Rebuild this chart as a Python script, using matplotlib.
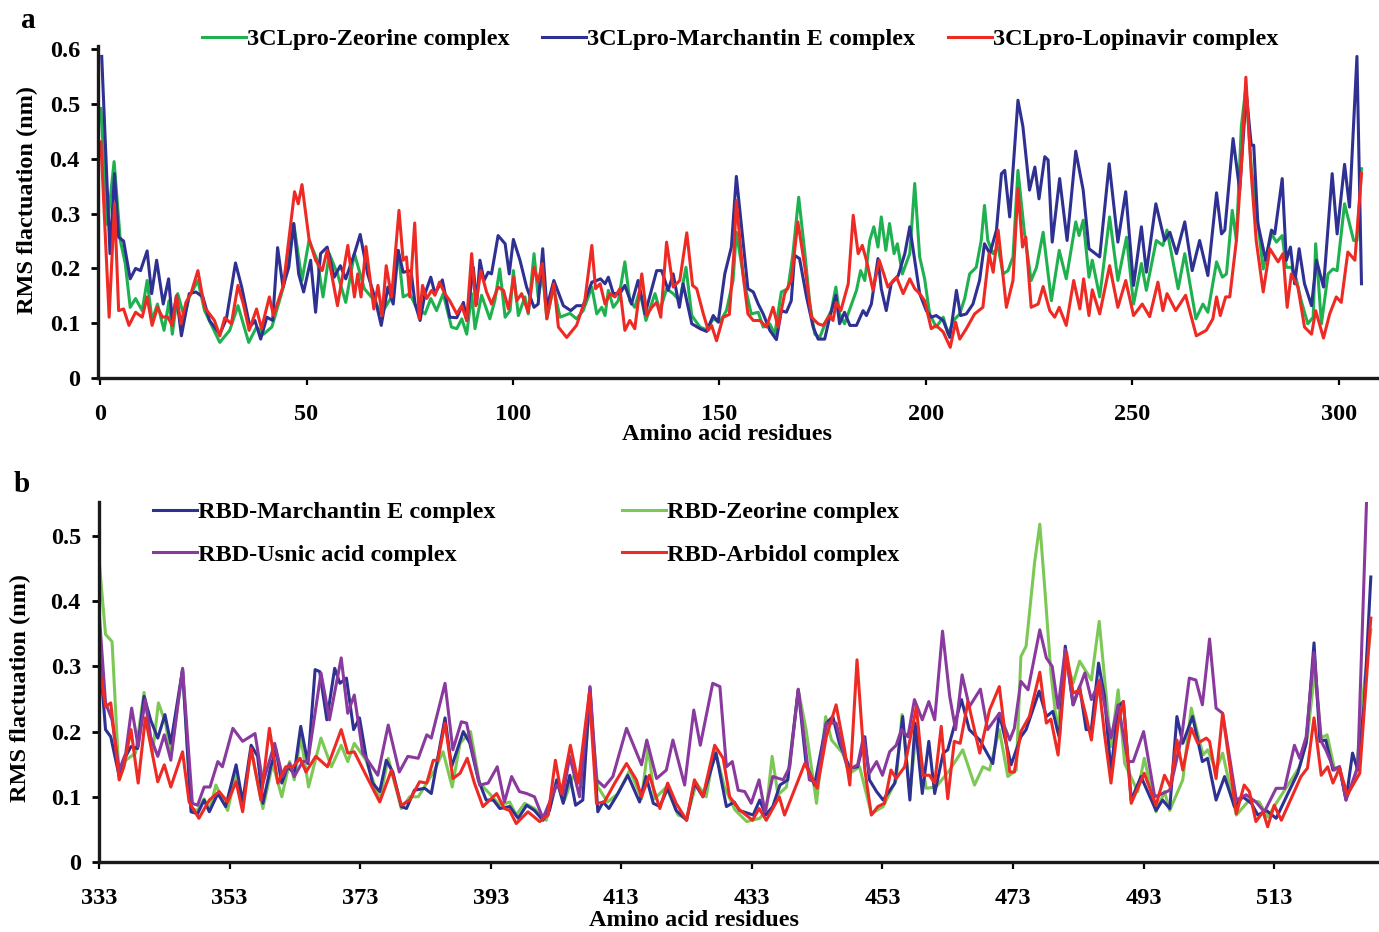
import matplotlib
matplotlib.use("Agg")
import matplotlib.pyplot as plt
from matplotlib.ticker import FuncFormatter

plt.rcParams['font.family'] = ['Liberation Serif', 'DejaVu Serif']
plt.rcParams['font.weight'] = 'bold'

# ---- panel a : 3CLpro complexes (residue, RMSF nm) ----
zeo_a_x = [0.2, 1.8, 3.4, 4.9, 6.1, 7.3, 8.6, 10.2, 11.4, 12.6, 13.9, 15.5, 16.7, 17.5, 18.8, 20.4, 21.6, 23.7, 25.3, 29, 31.4, 33.4, 36, 37.9, 39.6, 41.6, 44.4, 46.9, 48.9, 50.6, 52.6, 54, 55.5, 57.5, 59.5, 61.6, 64, 66.5, 68.1, 70.6, 72.2, 73.4, 75, 76.6, 78.7, 80.1, 81.5, 83.1, 85.1, 86.4, 87.6, 88.8, 90, 90.8, 92.4, 94.4, 95.6, 96.8, 98.1, 99.3, 100.1, 101.3, 102.9, 103.7, 105.1, 106.1, 107.2, 108.2, 109.8, 111.4, 113.8, 115.4, 117, 119.1, 120.3, 121.5, 122.3, 123.1, 124.3, 125.5, 127.1, 128.3, 129.5, 130.7, 132.2, 134.4, 135.6, 137.2, 138.8, 140.4, 141.9, 143.3, 145.3, 146.9, 148.5, 150.1, 151.7, 153.3, 154.1, 156.1, 157.7, 159.4, 160.6, 162.2, 163.4, 165, 166.6, 167.8, 169.2, 170.7, 171.9, 173.1, 174.3, 175.9, 177.1, 178.2, 179.1, 180.3, 182, 183.2, 184.2, 185.2, 186.4, 187.4, 188.4, 189.2, 190.3, 191.2, 192.3, 193.1, 194.3, 196.1, 197.3, 198.5, 199.7, 200.9, 202.5, 204.2, 205.4, 206.7, 208.2, 209.4, 210.6, 212.2, 213.4, 214.2, 215, 216.3, 217.5, 218.7, 219.9, 221.1, 222.3, 223.9, 225.5, 226.8, 228.4, 230.4, 232.3, 234, 236.3, 237.1, 238.1, 239.5, 240.3, 242.1, 244.5, 246.5, 248.6, 250.3, 252.2, 253.4, 255.8, 257.4, 258.4, 261.1, 262.7, 265.4, 267.1, 268.3, 270.4, 271.8, 272.8, 274.2, 275.2, 276.4, 277.5, 278.8, 281.7, 283.7, 284.9, 286.3, 287.3, 288.5, 289.7, 290.9, 292.5, 293.8, 294.4, 295.8, 297.4, 298.6, 299.6, 301.4, 303.6, 304.4, 305.5]
zeo_a_y = [0.492, 0.28, 0.395, 0.251, 0.209, 0.129, 0.145, 0.123, 0.178, 0.105, 0.135, 0.087, 0.141, 0.08, 0.154, 0.111, 0.148, 0.178, 0.123, 0.065, 0.087, 0.132, 0.065, 0.093, 0.08, 0.093, 0.166, 0.282, 0.178, 0.251, 0.215, 0.148, 0.227, 0.19, 0.138, 0.227, 0.163, 0.141, 0.117, 0.148, 0.233, 0.148, 0.154, 0.129, 0.117, 0.145, 0.123, 0.154, 0.093, 0.09, 0.108, 0.08, 0.154, 0.09, 0.151, 0.108, 0.141, 0.199, 0.111, 0.123, 0.196, 0.114, 0.148, 0.117, 0.227, 0.148, 0.19, 0.108, 0.166, 0.111, 0.118, 0.108, 0.123, 0.166, 0.117, 0.129, 0.114, 0.16, 0.129, 0.141, 0.212, 0.141, 0.129, 0.16, 0.105, 0.154, 0.123, 0.163, 0.154, 0.141, 0.202, 0.114, 0.093, 0.088, 0.108, 0.102, 0.123, 0.178, 0.266, 0.172, 0.117, 0.12, 0.093, 0.099, 0.08, 0.157, 0.163, 0.227, 0.33, 0.227, 0.135, 0.08, 0.074, 0.105, 0.123, 0.166, 0.117, 0.099, 0.135, 0.16, 0.196, 0.178, 0.251, 0.276, 0.239, 0.294, 0.233, 0.282, 0.227, 0.245, 0.19, 0.227, 0.355, 0.221, 0.181, 0.117, 0.093, 0.111, 0.08, 0.105, 0.117, 0.145, 0.19, 0.202, 0.251, 0.315, 0.251, 0.227, 0.239, 0.19, 0.196, 0.221, 0.379, 0.263, 0.178, 0.202, 0.266, 0.141, 0.233, 0.181, 0.285, 0.26, 0.288, 0.184, 0.215, 0.148, 0.294, 0.178, 0.257, 0.135, 0.209, 0.16, 0.251, 0.242, 0.27, 0.163, 0.227, 0.108, 0.135, 0.12, 0.212, 0.184, 0.19, 0.306, 0.251, 0.459, 0.53, 0.385, 0.199, 0.263, 0.248, 0.26, 0.202, 0.202, 0.181, 0.141, 0.099, 0.111, 0.245, 0.099, 0.19, 0.199, 0.196, 0.318, 0.251, 0.251, 0.382]

mar_a_x = [0.4, 2.4, 3.5, 4.5, 5.7, 7.3, 8.6, 9.8, 11.4, 12.5, 13.7, 15.3, 16.6, 17.5, 18.5, 19.7, 21.6, 23.2, 24.9, 26.5, 29, 30.6, 32.8, 34.3, 36.3, 37.5, 38.9, 40.4, 41.8, 43, 44.3, 45.7, 46.9, 48.1, 49.3, 51, 52.2, 53.4, 55, 56.7, 58.2, 59.5, 61.6, 63, 64.8, 66.5, 68.1, 69.7, 71, 72.2, 73.4, 75.3, 76.3, 77.5, 78.7, 80.1, 81.1, 82.9, 84.7, 86.4, 88, 88.8, 90.4, 91.2, 92, 93, 94, 94.8, 96.4, 98.1, 99.1, 100.1, 101.7, 103.3, 105.1, 106.1, 107.2, 108.2, 109.9, 112.2, 114, 115.4, 117, 119.1, 120.3, 121.2, 122.3, 123.1, 124.3, 125.9, 127.1, 128.7, 130.3, 132, 134.8, 136, 137.6, 138.8, 140.3, 141.2, 143.3, 145.3, 146.9, 148.5, 149.7, 151.3, 152.9, 154.1, 155.7, 156.9, 158.2, 159.4, 160.6, 162.2, 163.8, 165, 166.2, 167.4, 168.2, 169.4, 171.1, 172.7, 173.9, 175.5, 176.7, 178.2, 179.1, 180.3, 181.6, 183.2, 184.8, 185.6, 186.8, 188.4, 189.2, 190.4, 191.6, 193.3, 194.9, 196.1, 197.3, 198.5, 200.1, 201.3, 202.5, 204.2, 205.8, 207.4, 208.4, 209.8, 211.4, 213, 214.2, 215.5, 217.1, 218.3, 219.1, 220.3, 222.3, 223.5, 225.1, 226.4, 227.4, 228.8, 229.6, 230.6, 232.4, 234.2, 236.3, 238.1, 239.5, 242.1, 244.4, 246.5, 248.4, 250.3, 252.2, 253.4, 255.7, 257.8, 259.1, 260.7, 262.7, 264.5, 266.3, 268.3, 270.4, 271.6, 272.4, 274.4, 276, 277.6, 278.8, 279.4, 280.4, 282.3, 283.7, 284.5, 286.3, 287.3, 288.3, 289.3, 290.4, 291.7, 293.4, 294.6, 296.3, 298.4, 299.6, 301.4, 302.6, 304.4, 305.5]
mar_a_y = [0.587, 0.227, 0.373, 0.257, 0.25, 0.181, 0.2, 0.196, 0.232, 0.154, 0.215, 0.135, 0.181, 0.105, 0.15, 0.077, 0.154, 0.157, 0.148, 0.105, 0.08, 0.108, 0.21, 0.166, 0.093, 0.105, 0.071, 0.111, 0.105, 0.238, 0.166, 0.202, 0.282, 0.19, 0.157, 0.215, 0.12, 0.227, 0.239, 0.184, 0.205, 0.181, 0.227, 0.262, 0.19, 0.148, 0.096, 0.166, 0.135, 0.233, 0.193, 0.196, 0.135, 0.105, 0.154, 0.184, 0.154, 0.179, 0.111, 0.11, 0.138, 0.105, 0.202, 0.135, 0.215, 0.178, 0.193, 0.19, 0.26, 0.245, 0.19, 0.253, 0.215, 0.166, 0.129, 0.135, 0.236, 0.129, 0.178, 0.132, 0.123, 0.132, 0.132, 0.175, 0.178, 0.181, 0.172, 0.184, 0.154, 0.154, 0.169, 0.135, 0.178, 0.117, 0.196, 0.196, 0.16, 0.19, 0.129, 0.172, 0.099, 0.09, 0.085, 0.114, 0.102, 0.19, 0.239, 0.368, 0.251, 0.163, 0.157, 0.135, 0.117, 0.087, 0.07, 0.123, 0.12, 0.141, 0.224, 0.218, 0.148, 0.093, 0.071, 0.071, 0.111, 0.151, 0.099, 0.12, 0.096, 0.096, 0.123, 0.114, 0.135, 0.218, 0.163, 0.123, 0.172, 0.187, 0.227, 0.276, 0.215, 0.154, 0.123, 0.111, 0.114, 0.105, 0.074, 0.16, 0.114, 0.117, 0.135, 0.178, 0.245, 0.227, 0.27, 0.373, 0.379, 0.294, 0.507, 0.459, 0.343, 0.385, 0.327, 0.404, 0.398, 0.248, 0.364, 0.251, 0.414, 0.343, 0.236, 0.221, 0.391, 0.248, 0.34, 0.169, 0.276, 0.193, 0.318, 0.251, 0.266, 0.227, 0.285, 0.196, 0.251, 0.187, 0.338, 0.263, 0.27, 0.437, 0.343, 0.52, 0.425, 0.425, 0.282, 0.215, 0.27, 0.263, 0.364, 0.215, 0.239, 0.172, 0.236, 0.172, 0.132, 0.215, 0.166, 0.373, 0.263, 0.39, 0.312, 0.587, 0.172]

lop_a_x = [0.2, 2.2, 3.5, 4.5, 5.7, 7, 8.6, 10.2, 11.4, 12.6, 13.9, 15.1, 16.3, 17.5, 18.5, 19.6, 20.8, 22, 23.7, 25.3, 27.7, 29, 30.2, 31.8, 33.4, 34.7, 36.1, 37.9, 39.1, 41, 42, 44.4, 47.1, 48, 48.9, 50.6, 52.2, 53.8, 55, 57.5, 60, 61.6, 62.4, 63.2, 64.4, 66.3, 67.3, 68.3, 69.3, 70.6, 72.4, 73.4, 74.2, 75, 76.2, 77.3, 78.1, 79.1, 80.3, 81.1, 82.2, 83.5, 84.7, 86.4, 87.6, 88.8, 90, 91, 92.2, 93.6, 94.8, 96.4, 97.7, 98.9, 100.2, 100.9, 102.1, 103.7, 105.1, 106.1, 107.1, 108.2, 109.9, 111, 113, 115.4, 117.4, 119.1, 120, 121.1, 122.3, 123.5, 124.7, 125.9, 127.1, 128.3, 129.5, 131.2, 132.4, 133.6, 134.8, 135.8, 137.2, 138.8, 140.4, 142.1, 143.5, 144.5, 146.1, 147.3, 148.1, 149.3, 150.9, 152.4, 153.5, 154.1, 155.7, 156.9, 158.2, 159.8, 161.4, 163, 164.2, 165.8, 167.4, 169, 170.7, 172.3, 173.9, 175.1, 176.7, 177.5, 178.3, 179.4, 181.2, 182.4, 183.6, 184.6, 185.6, 187.2, 188.7, 189.8, 190.8, 192.1, 192.9, 194.5, 196.1, 197.3, 198.5, 199.7, 201.3, 202.5, 204.2, 205.9, 207.2, 208.2, 209.8, 211.8, 213.8, 215.3, 216.3, 217.5, 219.5, 221.1, 222.3, 223.4, 224.2, 225.5, 227.2, 228.4, 230, 231.2, 232.3, 234, 235.8, 237.3, 238.2, 239.5, 240.3, 242.1, 244.5, 246.5, 248.4, 250.3, 252.4, 254.2, 256.2, 257.4, 258.4, 260.5, 262.9, 265.5, 267.9, 269.5, 270.4, 271.3, 272.6, 273.6, 275.2, 276.4, 277.5, 278.8, 280, 281.7, 283.3, 285.3, 286.5, 287.5, 288.5, 290.1, 291.7, 293.4, 294.4, 296.3, 297.8, 299.4, 300.6, 302.2, 303.9, 305.5]
lop_a_y = [0.431, 0.111, 0.318, 0.123, 0.126, 0.096, 0.12, 0.111, 0.148, 0.096, 0.129, 0.111, 0.112, 0.096, 0.15, 0.099, 0.138, 0.154, 0.196, 0.129, 0.105, 0.077, 0.11, 0.099, 0.169, 0.135, 0.087, 0.126, 0.09, 0.148, 0.114, 0.169, 0.34, 0.318, 0.353, 0.254, 0.215, 0.196, 0.233, 0.132, 0.242, 0.148, 0.19, 0.148, 0.24, 0.126, 0.169, 0.114, 0.205, 0.148, 0.306, 0.215, 0.221, 0.148, 0.283, 0.108, 0.169, 0.145, 0.16, 0.151, 0.175, 0.154, 0.141, 0.117, 0.132, 0.105, 0.227, 0.132, 0.196, 0.157, 0.135, 0.166, 0.16, 0.126, 0.184, 0.141, 0.154, 0.12, 0.202, 0.175, 0.209, 0.108, 0.172, 0.093, 0.074, 0.096, 0.141, 0.242, 0.163, 0.172, 0.135, 0.154, 0.148, 0.163, 0.087, 0.105, 0.09, 0.19, 0.114, 0.129, 0.138, 0.111, 0.248, 0.166, 0.178, 0.265, 0.169, 0.163, 0.117, 0.087, 0.096, 0.068, 0.111, 0.116, 0.227, 0.324, 0.19, 0.117, 0.105, 0.105, 0.093, 0.129, 0.093, 0.154, 0.178, 0.285, 0.202, 0.111, 0.099, 0.096, 0.114, 0.105, 0.138, 0.123, 0.172, 0.297, 0.227, 0.242, 0.215, 0.16, 0.215, 0.19, 0.166, 0.178, 0.184, 0.154, 0.181, 0.163, 0.154, 0.141, 0.09, 0.096, 0.084, 0.056, 0.102, 0.071, 0.09, 0.117, 0.129, 0.227, 0.193, 0.27, 0.129, 0.178, 0.346, 0.239, 0.257, 0.129, 0.135, 0.167, 0.123, 0.111, 0.129, 0.096, 0.178, 0.126, 0.181, 0.114, 0.161, 0.117, 0.205, 0.129, 0.178, 0.114, 0.135, 0.112, 0.175, 0.123, 0.154, 0.123, 0.151, 0.077, 0.087, 0.108, 0.148, 0.114, 0.148, 0.148, 0.251, 0.385, 0.549, 0.373, 0.251, 0.157, 0.236, 0.212, 0.227, 0.129, 0.19, 0.166, 0.093, 0.08, 0.123, 0.073, 0.117, 0.148, 0.138, 0.23, 0.215, 0.373]

# ---- panel b : RBD complexes ----
mar_b_x = [333, 334, 334.8, 336.1, 337.1, 337.9, 338.9, 339.9, 340.9, 342, 343.1, 344, 345.8, 347.1, 348.1, 349.1, 349.9, 351.2, 352.4, 354, 355, 356.3, 357.3, 358.1, 359.3, 360.1, 361, 361.9, 362.9, 363.9, 365, 366.1, 366.8, 367.9, 369.1, 369.9, 370.9, 372, 372.9, 373.9, 374.9, 376, 377, 378, 379.3, 380.1, 381.3, 382.9, 383.9, 386, 387, 388.8, 389.8, 391.1, 392.3, 393.4, 394.4, 395.9, 397.2, 398.5, 399.7, 401, 402, 403.1, 404.1, 405.1, 406, 407.1, 408.2, 409.4, 410.2, 411.1, 412.2, 414, 415.8, 416.8, 417.9, 418.9, 420.1, 421.4, 423, 424.2, 425.5, 427.5, 429.1, 430.3, 431.1, 433.2, 434.2, 435.1, 436.2, 437.3, 438.5, 440.1, 441.3, 442.6, 444.4, 445.4, 446.4, 448, 449.2, 450.3, 451, 452.1, 453.1, 454.9, 456.1, 457.2, 458, 459.1, 460.1, 461, 462.3, 463, 465.1, 466.3, 467.9, 469.9, 470.9, 472.7, 474.2, 475, 477, 478.1, 479.1, 480.1, 481, 482.2, 483.2, 484.2, 485, 486.1, 487, 488, 489.1, 489.9, 491.1, 492.6, 494.9, 495.9, 497, 498.1, 499, 500.5, 502, 502.8, 504.1, 505.4, 506.9, 508.2, 509.5, 510.5, 511.8, 513.3, 515.1, 516.6, 517.9, 519.1, 520, 520.9, 522, 523, 524, 525, 525.8, 526.8, 527.8]
mar_b_y = [0.33, 0.203, 0.192, 0.131, 0.162, 0.177, 0.174, 0.254, 0.218, 0.19, 0.226, 0.182, 0.295, 0.077, 0.074, 0.095, 0.077, 0.105, 0.085, 0.149, 0.092, 0.179, 0.162, 0.09, 0.146, 0.172, 0.121, 0.146, 0.136, 0.208, 0.151, 0.295, 0.292, 0.218, 0.297, 0.274, 0.282, 0.203, 0.221, 0.162, 0.121, 0.108, 0.156, 0.138, 0.085, 0.082, 0.11, 0.113, 0.105, 0.221, 0.146, 0.2, 0.182, 0.126, 0.095, 0.095, 0.082, 0.085, 0.067, 0.087, 0.079, 0.064, 0.079, 0.126, 0.09, 0.133, 0.087, 0.095, 0.267, 0.077, 0.092, 0.082, 0.1, 0.133, 0.092, 0.131, 0.09, 0.085, 0.113, 0.079, 0.064, 0.121, 0.1, 0.167, 0.085, 0.092, 0.079, 0.072, 0.095, 0.072, 0.085, 0.118, 0.126, 0.264, 0.151, 0.118, 0.213, 0.223, 0.182, 0.144, 0.146, 0.192, 0.126, 0.108, 0.095, 0.121, 0.223, 0.095, 0.213, 0.105, 0.185, 0.105, 0.167, 0.172, 0.249, 0.203, 0.187, 0.151, 0.228, 0.149, 0.192, 0.203, 0.262, 0.223, 0.231, 0.19, 0.331, 0.241, 0.269, 0.203, 0.203, 0.305, 0.254, 0.138, 0.238, 0.246, 0.095, 0.131, 0.079, 0.095, 0.082, 0.223, 0.182, 0.223, 0.154, 0.159, 0.095, 0.131, 0.085, 0.1, 0.09, 0.072, 0.079, 0.067, 0.105, 0.136, 0.182, 0.336, 0.185, 0.187, 0.141, 0.146, 0.095, 0.167, 0.141, 0.244, 0.437]

zeo_b_x = [333, 334, 335, 336.1, 337.1, 338.6, 339.9, 341.2, 342.1, 343.2, 344, 345.8, 347.1, 348.1, 349.1, 349.9, 350.9, 352.7, 354, 355, 356.3, 358.1, 359.6, 361, 362.2, 362.9, 363.9, 365.1, 367, 368.6, 370.1, 371.1, 372.1, 373.9, 376, 377.3, 379.3, 380.6, 381.9, 383.2, 384.4, 385.7, 387.1, 388.3, 389.9, 391.3, 392.8, 394.4, 395.9, 396.9, 398.2, 399.7, 401.5, 403.1, 404.3, 405.6, 407.1, 408.2, 409.4, 410.9, 412.5, 414.3, 416.1, 417.1, 418.1, 419.9, 421.7, 423, 424.5, 426, 427.3, 428.8, 430.4, 432.2, 434.2, 435.2, 436.1, 437, 438.3, 440.1, 441.3, 442.9, 444.3, 445.2, 446.9, 448, 449.5, 451.3, 453.1, 455.1, 456, 457.2, 458.2, 459.7, 461.2, 463.3, 465.3, 467.1, 468.4, 469.4, 470.9, 472.2, 473.5, 474.2, 475, 476.3, 477.1, 477.8, 478.8, 479.8, 481, 482.2, 483.2, 485, 486.2, 488, 489.1, 490.1, 492.1, 493.1, 494.9, 496.2, 497, 499, 500.3, 502.1, 502.8, 504.1, 505.1, 507.2, 509.2, 510.7, 512, 513.3, 515.3, 516.9, 518.1, 519.2, 520.2, 521.1, 522.2, 523, 524, 525.5, 526.8, 527.8]
zeo_b_y = [0.464, 0.349, 0.338, 0.126, 0.156, 0.167, 0.26, 0.167, 0.244, 0.213, 0.162, 0.295, 0.082, 0.079, 0.097, 0.079, 0.118, 0.079, 0.136, 0.087, 0.172, 0.082, 0.151, 0.1, 0.154, 0.126, 0.192, 0.115, 0.19, 0.146, 0.179, 0.154, 0.182, 0.156, 0.095, 0.159, 0.082, 0.1, 0.1, 0.121, 0.141, 0.169, 0.115, 0.182, 0.2, 0.121, 0.105, 0.087, 0.092, 0.072, 0.09, 0.082, 0.064, 0.121, 0.095, 0.131, 0.121, 0.244, 0.115, 0.092, 0.105, 0.141, 0.097, 0.177, 0.097, 0.115, 0.072, 0.067, 0.121, 0.1, 0.174, 0.115, 0.08, 0.062, 0.067, 0.079, 0.162, 0.103, 0.115, 0.264, 0.203, 0.09, 0.223, 0.187, 0.167, 0.136, 0.146, 0.074, 0.085, 0.126, 0.226, 0.105, 0.203, 0.113, 0.115, 0.141, 0.172, 0.118, 0.146, 0.141, 0.203, 0.131, 0.141, 0.315, 0.331, 0.459, 0.518, 0.428, 0.29, 0.2, 0.315, 0.274, 0.308, 0.279, 0.369, 0.177, 0.264, 0.151, 0.108, 0.159, 0.077, 0.108, 0.079, 0.126, 0.236, 0.164, 0.172, 0.141, 0.167, 0.072, 0.095, 0.092, 0.069, 0.09, 0.121, 0.146, 0.192, 0.292, 0.19, 0.195, 0.144, 0.144, 0.097, 0.131, 0.274, 0.356]

usn_b_x = [333, 334, 335, 336.1, 337.1, 338, 339, 340.1, 340.9, 342, 343, 344, 345.8, 347.3, 348.1, 349.1, 350, 351.2, 351.9, 353.5, 355, 356.9, 358.1, 359.9, 361.1, 362.2, 362.9, 364.2, 365, 367, 368.3, 370.1, 371.1, 372.1, 373.4, 375.7, 377.3, 379, 380.3, 381.9, 383.2, 383.9, 386, 387.2, 388.5, 389.3, 391.3, 392.6, 394, 395.1, 396.2, 397.4, 398.5, 399.7, 401, 403.1, 404.1, 405.1, 406.6, 408.2, 409.2, 410.4, 411.7, 413.8, 416.1, 416.9, 418.4, 419.9, 420.9, 422.7, 424.1, 425.1, 427, 428.1, 429.1, 430, 430.9, 431.9, 432.9, 434.1, 435, 436.2, 437.8, 438.8, 440.1, 441.8, 443, 444.4, 445.9, 447.7, 449.2, 450.1, 451, 452.1, 453, 454.1, 455.1, 455.9, 456.9, 457.9, 459.1, 460.1, 461, 462.2, 463.3, 464.2, 465.2, 466.3, 468, 469.1, 470.9, 472.5, 473.2, 474.2, 475.3, 477.1, 478.1, 479, 479.9, 481, 482.2, 484, 485, 486.3, 488, 489.1, 490.6, 491.4, 493, 494.7, 495.9, 497, 498.8, 500, 501, 502, 503.1, 504.1, 505.1, 507.2, 508.7, 510.2, 511.5, 513.3, 514.6, 516.1, 516.9, 517.9, 519.1, 520.2, 520.9, 522.2, 523, 524, 525.8, 527.3]
usn_b_y = [0.385, 0.244, 0.218, 0.141, 0.167, 0.236, 0.177, 0.249, 0.192, 0.162, 0.195, 0.156, 0.297, 0.09, 0.087, 0.115, 0.115, 0.154, 0.146, 0.205, 0.185, 0.197, 0.121, 0.182, 0.131, 0.151, 0.131, 0.154, 0.154, 0.29, 0.218, 0.313, 0.228, 0.256, 0.167, 0.133, 0.21, 0.138, 0.162, 0.159, 0.195, 0.19, 0.274, 0.172, 0.215, 0.213, 0.118, 0.121, 0.146, 0.092, 0.131, 0.108, 0.105, 0.1, 0.067, 0.118, 0.105, 0.162, 0.1, 0.269, 0.126, 0.115, 0.131, 0.205, 0.149, 0.187, 0.128, 0.141, 0.187, 0.118, 0.233, 0.179, 0.274, 0.269, 0.146, 0.154, 0.11, 0.108, 0.09, 0.126, 0.077, 0.131, 0.126, 0.146, 0.265, 0.126, 0.121, 0.213, 0.213, 0.141, 0.149, 0.192, 0.136, 0.154, 0.133, 0.169, 0.179, 0.203, 0.192, 0.249, 0.218, 0.246, 0.218, 0.354, 0.254, 0.203, 0.287, 0.238, 0.265, 0.203, 0.228, 0.187, 0.205, 0.277, 0.264, 0.356, 0.313, 0.3, 0.236, 0.326, 0.241, 0.29, 0.249, 0.279, 0.19, 0.241, 0.154, 0.154, 0.2, 0.1, 0.105, 0.11, 0.19, 0.282, 0.279, 0.241, 0.342, 0.236, 0.228, 0.095, 0.103, 0.092, 0.077, 0.113, 0.113, 0.179, 0.159, 0.192, 0.321, 0.185, 0.172, 0.141, 0.146, 0.095, 0.146, 0.6]

arb_b_x = [333, 334, 334.8, 336.1, 336.8, 337.9, 339, 340.1, 342, 343, 344, 345.8, 346.8, 348.3, 349.9, 351.4, 352.7, 354, 355, 356.3, 357.8, 359.1, 360.4, 361.6, 362.7, 363.8, 364.7, 366.2, 368, 370.1, 371.1, 372.1, 373.9, 376, 377.8, 379.3, 380.6, 382.1, 383.2, 384.2, 384.9, 386, 387.2, 388.3, 389.4, 390.5, 391.8, 393.9, 395.1, 395.9, 396.9, 398.7, 400.5, 401.8, 402.9, 403.8, 405.2, 406.4, 408.1, 409.2, 410.4, 412, 413.8, 415.3, 416.1, 417.3, 418.9, 420.1, 421.4, 423, 424.2, 425.5, 427.3, 428.6, 429.6, 431.1, 433.1, 434.1, 435.2, 437.2, 438, 441.1, 443, 444.4, 445.9, 447.2, 448, 449.1, 450.3, 451.3, 452.3, 453.3, 454.3, 455.1, 456.4, 458.2, 459.2, 460.2, 461, 462, 463, 464, 464.9, 466.1, 467.9, 469.4, 470.9, 472.5, 473.2, 474.2, 475.5, 477.1, 478.1, 478.8, 479.9, 481.2, 482.2, 483.2, 484.2, 485, 486.1, 487, 488, 489.1, 489.9, 491.1, 493.1, 494.9, 496.2, 497.1, 498.1, 499, 500.3, 501.3, 502.6, 503.1, 504.1, 505.1, 507.2, 508.4, 509.2, 510.2, 511.3, 512, 513, 514.1, 517.1, 518.1, 519.1, 520.2, 521.2, 522, 523, 524.2, 526.1, 527.8]
arb_b_y = [0.305, 0.238, 0.244, 0.126, 0.146, 0.203, 0.121, 0.221, 0.123, 0.149, 0.115, 0.169, 0.092, 0.067, 0.095, 0.108, 0.092, 0.123, 0.077, 0.174, 0.095, 0.205, 0.121, 0.146, 0.146, 0.159, 0.138, 0.162, 0.146, 0.203, 0.167, 0.169, 0.133, 0.092, 0.141, 0.087, 0.095, 0.123, 0.121, 0.156, 0.156, 0.213, 0.128, 0.136, 0.159, 0.121, 0.085, 0.105, 0.082, 0.079, 0.059, 0.077, 0.062, 0.072, 0.156, 0.105, 0.179, 0.121, 0.259, 0.09, 0.092, 0.121, 0.151, 0.126, 0.1, 0.133, 0.082, 0.121, 0.09, 0.064, 0.126, 0.1, 0.179, 0.159, 0.1, 0.08, 0.064, 0.082, 0.064, 0.1, 0.072, 0.151, 0.113, 0.192, 0.241, 0.172, 0.118, 0.31, 0.141, 0.072, 0.085, 0.09, 0.141, 0.128, 0.146, 0.238, 0.133, 0.133, 0.121, 0.208, 0.097, 0.185, 0.182, 0.246, 0.167, 0.233, 0.269, 0.138, 0.138, 0.2, 0.223, 0.291, 0.213, 0.219, 0.164, 0.321, 0.259, 0.264, 0.223, 0.187, 0.277, 0.197, 0.121, 0.213, 0.246, 0.09, 0.136, 0.087, 0.133, 0.115, 0.187, 0.141, 0.205, 0.182, 0.19, 0.185, 0.128, 0.228, 0.074, 0.118, 0.108, 0.062, 0.077, 0.054, 0.087, 0.064, 0.131, 0.144, 0.221, 0.133, 0.146, 0.121, 0.144, 0.103, 0.136, 0.374]

a_ticks = [0, 50, 100, 150, 200, 250, 300]
b_ticks = [333, 353, 373, 393, 413, 433, 453, 473, 493, 513]

GREEN_A = '#1fb14f'
NAVY = '#2e3192'
RED = '#ee2a24'
GREEN_B = '#7cc855'
PURPLE = '#8a3a9e'

FS = 17.5
LW = 2.2

fig = plt.figure(figsize=(13.79, 9.32), dpi=100)


def style_axes(ax):
    for s in ('top', 'right'):
        ax.spines[s].set_visible(False)
    for s in ('left', 'bottom'):
        ax.spines[s].set_linewidth(2.4)
        ax.spines[s].set_color('#1a1a1a')
    ax.tick_params(axis='y', direction='out', length=5, width=2, pad=8, labelsize=FS)
    ax.tick_params(axis='x', direction='out', length=5, width=1.6, pad=14, labelsize=FS)
    ax.yaxis.set_major_formatter(FuncFormatter(lambda v, p: '0' if abs(v) < 1e-9 else f'{v:.1f}'))


# panel a
ax1 = fig.add_axes([98 / 1379, 1 - 378 / 932, 1280 / 1379, 332 / 932])
ax1.plot(zeo_a_x, zeo_a_y, color=GREEN_A, lw=LW, label='3CLpro-Zeorine complex')
ax1.plot(mar_a_x, mar_a_y, color=NAVY, lw=LW, label='3CLpro-Marchantin E complex')
ax1.plot(lop_a_x, lop_a_y, color=RED, lw=LW, label='3CLpro-Lopinavir complex')
ax1.set_xlim(-0.5, 309.5)
ax1.set_ylim(0, 0.606)
ax1.set_xticks(a_ticks)
ax1.set_yticks([0, 0.1, 0.2, 0.3, 0.4, 0.5, 0.6])
style_axes(ax1)
ax1.legend(loc='upper left', bbox_to_anchor=(202 / 1379, 1 - 28 / 932), bbox_transform=fig.transFigure,
           ncol=3, frameon=False, fontsize=FS, handlelength=1.8, handletextpad=0.05,
           columnspacing=1.35, borderpad=0, borderaxespad=0)

# panel b
ax2 = fig.add_axes([99 / 1379, 1 - 862 / 932, 1279 / 1379, 360 / 932])
ax2.plot(zeo_b_x, zeo_b_y, color=GREEN_B, lw=LW, label='RBD-Zeorine complex')
ax2.plot(mar_b_x, mar_b_y, color=NAVY, lw=LW, label='RBD-Marchantin E complex')
ax2.plot(usn_b_x, usn_b_y, color=PURPLE, lw=LW, label='RBD-Usnic acid complex')
ax2.plot(arb_b_x, arb_b_y, color=RED, lw=LW, label='RBD-Arbidol complex')
ax2.set_xlim(333, 528.9)
ax2.set_ylim(0, 0.552)
ax2.set_xticks(b_ticks)
ax2.set_yticks([0, 0.1, 0.2, 0.3, 0.4, 0.5])
style_axes(ax2)
h, l = ax2.get_legend_handles_labels()
order = [1, 2, 0, 3]
ax2.legend([h[i] for i in order], [l[i] for i in order], loc='upper left',
           bbox_to_anchor=(153 / 1379, 1 - 501 / 932), bbox_transform=fig.transFigure,
           ncol=2, frameon=False, fontsize=FS, handlelength=1.8, handletextpad=0.05,
           columnspacing=5.2, labelspacing=0.85, borderpad=0, borderaxespad=0)

# labels
fig.text(727 / 1379, 1 - 434 / 932, 'Amino acid residues', ha='center', va='center', fontsize=FS)
fig.text(694 / 1379, 1 - 921 / 932, 'Amino acid residues', ha='center', va='center', fontsize=FS)
fig.text(27 / 1379, 1 - 200 / 932, 'RMS flactuation (nm)', rotation=90, ha='center', va='center', fontsize=FS)
fig.text(20 / 1379, 1 - 688 / 932, 'RMS flactuation (nm)', rotation=90, ha='center', va='center', fontsize=FS)
fig.text(28 / 1379, 1 - 20 / 932, 'a', ha='center', va='center', fontsize=21)
fig.text(22 / 1379, 1 - 485 / 932, 'b', ha='center', va='center', fontsize=21)

fig.savefig('out.png', dpi=100)
